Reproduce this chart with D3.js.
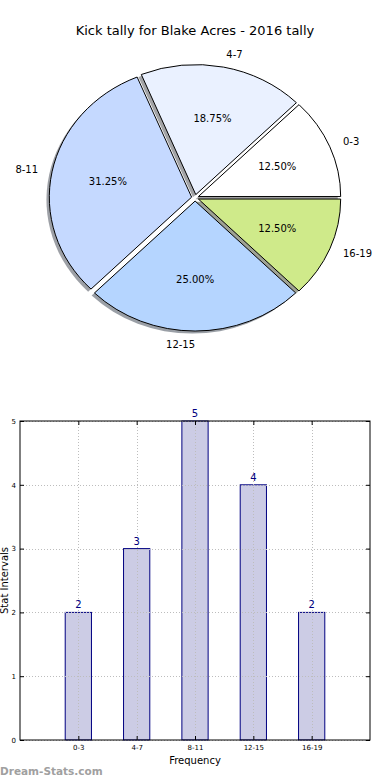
<!DOCTYPE html>
<html>
<head>
<meta charset="utf-8">
<script src="https://cdn.jsdelivr.net/npm/d3@7"></script>
<style>
  html, body { margin: 0; padding: 0; background: #ffffff; }
  svg { display: block; font-family: "DejaVu Sans", sans-serif; }
</style>
</head>
<body>
<svg id="chart" width="390" height="780"></svg>
<script>
// ---- data ----
const title = "Kick tally for Blake Acres - 2016 tally";
const categories = ["0-3", "4-7", "8-11", "12-15", "16-19"];
const counts = [2, 3, 5, 4, 2];
const pieColors = ["#ffffff", "#eaf1ff", "#c5d9ff", "#b5d5ff", "#cfea8a"];
const yTicks = [0, 1, 2, 3, 4, 5];
const xLabel = "Frequency";
const yLabel = "Stat Intervals";
const watermark = "Dream-Stats.com";

(function () {
const svg = d3.select("#chart");

svg.append("text")
  .attr("x", 195).attr("y", 35)
  .attr("text-anchor", "middle")
  .attr("font-size", 13)
  .attr("fill", "#000")
  .text(title);

// ---- pie (elliptical, matplotlib style) ----
const cx = 195.1, cy = 197.8, rx = 142.3, ry = 130;
const explode = 0.025;
const px = d3.scaleLinear().domain([-1, 1]).range([cx - rx, cx + rx]);
const py = d3.scaleLinear().domain([-1, 1]).range([cy + ry, cy - ry]);

const pie = d3.pie().sort(null).value(d => d)
  .startAngle(Math.PI / 2).endAngle(Math.PI / 2 - 2 * Math.PI);
const arcs = pie(counts);
const arcGen = d3.arc().innerRadius(0).outerRadius(1);
const total = d3.sum(counts);

function dirOf(d) {
  const a = (d.startAngle + d.endAngle) / 2;
  return [Math.sin(a), Math.cos(a)];
}

const pieG = svg.append("g")
  .attr("transform", `translate(${px(0)},${py(0)}) scale(${rx},${ry})`);

pieG.selectAll("path.shadow").data(arcs).enter().append("path")
  .attr("class", "shadow")
  .attr("d", arcGen)
  .attr("transform", d => {
    const [c, s] = dirOf(d);
    return `translate(${explode * c - 0.02},${-explode * s + 0.02})`;
  })
  .attr("fill", (d, i) => {
    const col = d3.rgb(pieColors[i]);
    return d3.rgb(col.r * 0.3, col.g * 0.3, col.b * 0.3).toString();
  })
  .attr("fill-opacity", 0.5)
  .attr("stroke", "none");

pieG.selectAll("path.wedge").data(arcs).enter().append("path")
  .attr("class", "wedge")
  .attr("d", arcGen)
  .attr("transform", d => {
    const [c, s] = dirOf(d);
    return `translate(${explode * c},${-explode * s})`;
  })
  .attr("fill", (d, i) => pieColors[i])
  .attr("stroke", "#000")
  .attr("stroke-width", 1)
  .attr("vector-effect", "non-scaling-stroke")
  .attr("stroke-linejoin", "round");

svg.selectAll("text.plabel").data(arcs).enter().append("text")
  .attr("class", "plabel")
  .attr("x", d => px((explode + 1.1) * dirOf(d)[0]))
  .attr("y", d => py((explode + 1.1) * dirOf(d)[1]))
  .attr("dy", "0.35em")
  .attr("text-anchor", d => dirOf(d)[0] > 0 ? "start" : "end")
  .attr("font-size", 10)
  .attr("fill", "#000")
  .text((d, i) => categories[i]);

svg.selectAll("text.pct").data(arcs).enter().append("text")
  .attr("class", "pct")
  .attr("x", d => px((explode + 0.6) * dirOf(d)[0]))
  .attr("y", d => py((explode + 0.6) * dirOf(d)[1]))
  .attr("dy", "0.35em")
  .attr("text-anchor", "middle")
  .attr("font-size", 10)
  .attr("fill", "#000")
  .text(d => (100 * d.value / total).toFixed(2) + "%");

// ---- bar chart ----
const pL = 20, pR = 370, pT = 421, pB = 740;
const x = d3.scaleLinear().domain([-1, 5]).range([pL, pR]);
const y = d3.scaleLinear().domain([0, 5]).range([pB, pT]);
const idx = categories.map((c, i) => i);
const barW = 0.45;

svg.append("g").selectAll("rect.bar").data(counts).enter().append("rect")
  .attr("class", "bar")
  .attr("x", (d, i) => x(i - barW / 2))
  .attr("width", x(barW) - x(0))
  .attr("y", d => y(d))
  .attr("height", d => y(0) - y(d))
  .attr("fill", "#ccccE5")
  .attr("stroke", "#000080")
  .attr("stroke-width", 1);

const grid = svg.append("g").attr("stroke", "#bdbdbd").attr("stroke-width", 1)
  .attr("stroke-dasharray", "1,2");
grid.selectAll("line.gx").data(idx).enter().append("line")
  .attr("x1", d => Math.round(x(d)) + 0.5).attr("x2", d => Math.round(x(d)) + 0.5)
  .attr("y1", pT).attr("y2", pB);
grid.selectAll("line.gy").data(yTicks).enter().append("line")
  .attr("x1", pL).attr("x2", pR)
  .attr("y1", d => Math.round(y(d)) + 0.5).attr("y2", d => Math.round(y(d)) + 0.5);

const axL = svg.append("g").attr("transform", `translate(${pL},0)`)
  .call(d3.axisLeft(y).tickValues(yTicks).tickSize(-4).tickPadding(4).tickFormat(d3.format("d")));
const axR = svg.append("g").attr("transform", `translate(${pR},0)`)
  .call(d3.axisRight(y).tickValues(yTicks).tickSize(-4).tickFormat(""));
const axB = svg.append("g").attr("transform", `translate(0,${pB})`)
  .call(d3.axisBottom(x).tickValues(idx).tickSize(-4).tickPadding(5).tickFormat(i => categories[i]));
const axT = svg.append("g").attr("transform", `translate(0,${pT})`)
  .call(d3.axisTop(x).tickValues(idx).tickSize(-4).tickFormat(""));
[axL, axR, axB, axT].forEach(g => {
  g.select(".domain").remove();
  g.selectAll("text").attr("font-size", 7).attr("font-family", "DejaVu Sans").attr("fill", "#000");
  g.selectAll("line").attr("stroke", "#000");
});

svg.append("rect")
  .attr("x", pL).attr("y", pT)
  .attr("width", pR - pL).attr("height", pB - pT)
  .attr("fill", "none").attr("stroke", "#000").attr("stroke-width", 1);

svg.selectAll("text.val").data(counts).enter().append("text")
  .attr("class", "val")
  .attr("x", (d, i) => x(i))
  .attr("y", d => y(d) - 4)
  .attr("text-anchor", "middle")
  .attr("font-size", 10)
  .attr("fill", "#000080")
  .text(d => d);

svg.append("text")
  .attr("x", (pL + pR) / 2).attr("y", 764)
  .attr("text-anchor", "middle")
  .attr("font-size", 10)
  .attr("fill", "#000")
  .text(xLabel);
svg.append("text")
  .attr("transform", `translate(8,${(pT + pB) / 2}) rotate(-90)`)
  .attr("text-anchor", "middle")
  .attr("font-size", 10)
  .attr("fill", "#000")
  .text(yLabel);

svg.append("text")
  .attr("x", 0).attr("y", 775)
  .attr("font-size", 10.5)
  .attr("font-weight", "bold")
  .attr("fill", "#a0a0a0")
  .text(watermark);
})();
</script>
</body>
</html>
